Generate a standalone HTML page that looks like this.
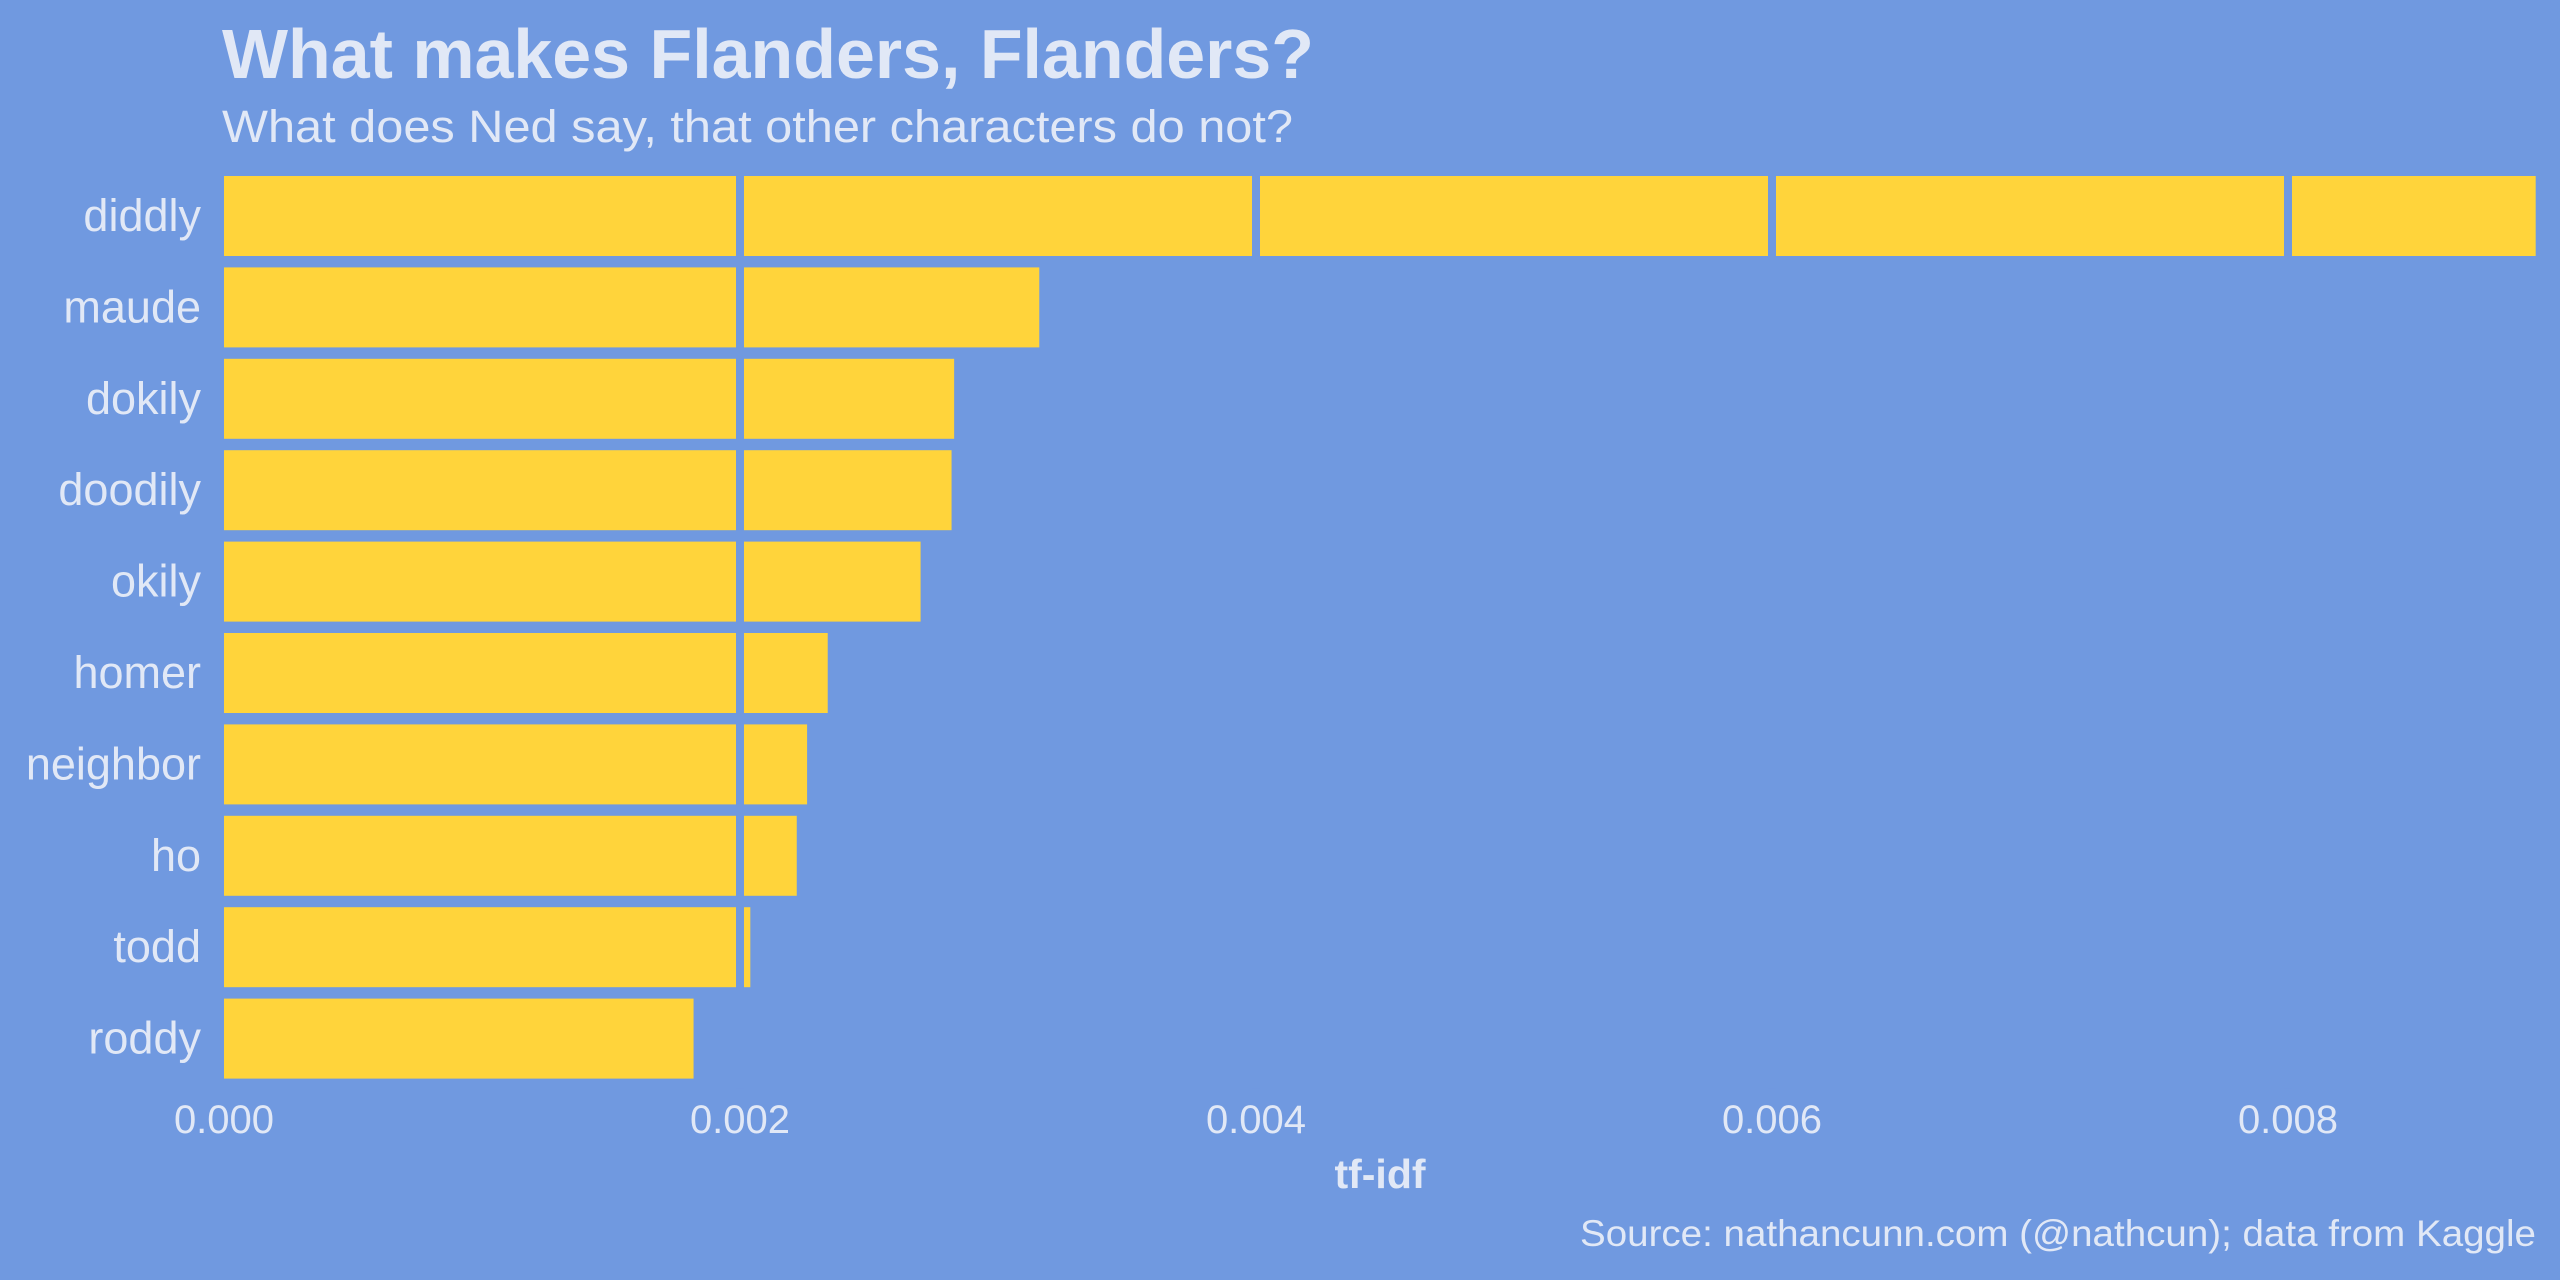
<!DOCTYPE html>
<html><head><meta charset="utf-8"><style>
html,body{margin:0;padding:0;background:#7099e0;}
svg{display:block;}
text{fill:#e1e8f6;font-family:"Liberation Sans",sans-serif;}
</style></head><body>
<svg id="chart" width="2560" height="1280">
<rect width="2560" height="1280" fill="#7099e0"/>
<text x="222" y="78" font-size="70" font-weight="bold" textLength="1092" lengthAdjust="spacingAndGlyphs">What makes Flanders, Flanders?</text>
<text x="222" y="142" font-size="45" textLength="1071" lengthAdjust="spacingAndGlyphs">What does Ned say, that other characters do not?</text>
<g id="bars"></g>
<g id="grid"></g>
<g id="ylabels"></g>
<g id="xlabels"></g>
<text x="1380" y="1188" font-size="41" font-weight="bold" text-anchor="middle">tf-idf</text>
<text x="2536" y="1246" font-size="37" text-anchor="end" textLength="956" lengthAdjust="spacingAndGlyphs">Source: nathancunn.com (@nathcun); data from Kaggle</text>
</svg>
<script>
const categories = ["diddly","maude","dokily","doodily","okily","homer","neighbor","ho","todd","roddy"];
const values = [0.00896,0.00316,0.00283,0.00282,0.0027,0.00234,0.00226,0.00222,0.00204,0.00182];
const ticks = [0,0.002,0.004,0.006,0.008];
const tickLabels = ["0.000","0.002","0.004","0.006","0.008"];
const NS="http://www.w3.org/2000/svg";
const x0=224, pxPerUnit=258000;
const X=v=>x0+v*pxPerUnit;
const rowTop=176, rowPitch=91.4, barH=80;
const Y=i=>rowTop+i*rowPitch;
const gb=document.getElementById('bars'), gg=document.getElementById('grid'),
      gy=document.getElementById('ylabels'), gx=document.getElementById('xlabels');
categories.forEach((c,i)=>{
  const r=document.createElementNS(NS,'rect');
  r.setAttribute('x',X(0));r.setAttribute('y',Y(i));
  r.setAttribute('width',X(values[i])-X(0));r.setAttribute('height',barH);
  r.setAttribute('fill','#ffd43b');
  
  
  gb.appendChild(r);
  const t=document.createElementNS(NS,'text');
  t.setAttribute('x',201);t.setAttribute('y',Y(i)+barH/2+15);
  t.setAttribute('font-size','45');t.setAttribute('text-anchor','end');
  t.textContent=c;
  
  
  gy.appendChild(t);
});
ticks.forEach((v,i)=>{
  if(v>0){
    const l=document.createElementNS(NS,'line');
    l.setAttribute('x1',X(v));l.setAttribute('x2',X(v));
    l.setAttribute('y1',Y(0)-10);l.setAttribute('y2',Y(categories.length-1)+barH+10);
    l.setAttribute('stroke','#7099e0');l.setAttribute('stroke-width','8');
    
    
    gg.appendChild(l);
  }
  const t=document.createElementNS(NS,'text');
  t.setAttribute('x',X(v));t.setAttribute('y',1133);
  t.setAttribute('font-size','40');t.setAttribute('text-anchor','middle');
  t.textContent=tickLabels[i];
  
  
  gx.appendChild(t);
});
</script>
</body></html>
